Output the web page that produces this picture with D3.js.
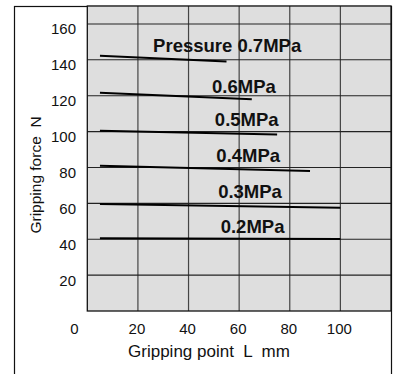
<!DOCTYPE html>
<html lang="en">
<head>
<meta charset="UTF-8">
<script src="https://cdn.jsdelivr.net/npm/d3@7"></script>
<title>Gripping force</title>
<style>
  body { margin: 0; background: #fff; }
  svg text { font-family: "Liberation Sans", Arial, sans-serif; fill: #111; }
  .lbl { font-weight: bold; font-size: 18.5px; }
</style>
</head>
<body>
<div id="chart"></div>
<script>
// values
const pressureLabels = ["Pressure 0.7MPa", "0.6MPa", "0.5MPa", "0.4MPa", "0.3MPa", "0.2MPa"];
const pointStart = [5, 5, 5, 5, 5, 5];
const pointEnd = [55, 65, 75, 88, 100, 100];
const forceStart = [142.3, 121.7, 100.5, 81, 59.6, 40.5];
const forceEnd = [139, 118, 98.4, 78, 57.6, 40.1];
const labelPoint = [26, 49.3, 50.4, 51, 51.7, 52.7];
const labelForce = [144.1, 121.6, 103, 82.8, 63.1, 43.3];
const xTicks = [20, 40, 60, 80, 100];
const yTicks = [20, 40, 60, 80, 100, 120, 140, 160];
const xGrid = [20, 40, 60, 80, 100];
const yGrid = [20, 40, 60, 80, 100, 120, 140, 160];

const W = 395, H = 374;
const svg = d3.select("#chart").append("svg")
    .attr("width", W)
    .attr("height", H);

const x = d3.scaleLinear().domain([0, 120]).range([87.3, 391]);
const y = d3.scaleLinear().domain([0, 170]).range([311, 6]);

// outer frame (open at the bottom, runs off the picture)
svg.append("rect")
    .attr("x", 14.5).attr("y", 6.5)
    .attr("width", 377).attr("height", 400)
    .attr("fill", "none").attr("stroke", "#111").attr("stroke-width", 1.2);

// plot background
svg.append("rect")
    .attr("x", x(0)).attr("y", y(170))
    .attr("width", x(120) - x(0)).attr("height", y(0) - y(170))
    .attr("fill", "#dedede");

// grid
svg.selectAll(".vg").data(xGrid).enter().append("line")
    .attr("x1", d => x(d)).attr("x2", d => x(d))
    .attr("y1", y(0)).attr("y2", y(170))
    .attr("stroke", "#444").attr("stroke-width", 1.2);

svg.selectAll(".hg").data(yGrid).enter().append("line")
    .attr("x1", x(0)).attr("x2", x(120))
    .attr("y1", d => y(d)).attr("y2", d => y(d))
    .attr("stroke", "#222").attr("stroke-width", 1.1);

// plot border
svg.append("rect")
    .attr("x", x(0)).attr("y", y(170))
    .attr("width", x(120) - x(0)).attr("height", y(0) - y(170))
    .attr("fill", "none").attr("stroke", "#111").attr("stroke-width", 1.3);

// tick labels
svg.selectAll(".xt").data(xTicks).enter().append("text")
    .attr("x", d => x(d) - 1).attr("y", 334)
    .attr("text-anchor", "middle")
    .style("font-size", "15px")
    .text(d => d);

svg.append("text")
    .attr("x", x(0) - 13).attr("y", 334)
    .attr("text-anchor", "middle")
    .style("font-size", "15px")
    .text("0");

svg.selectAll(".yt").data(yTicks).enter().append("text")
    .attr("x", 76).attr("y", d => y(d) + 10.5)
    .attr("text-anchor", "end")
    .style("font-size", "15px")
    .text(d => d);

// axis titles
svg.append("text")
    .attr("x", 209).attr("y", 357)
    .attr("text-anchor", "middle")
    .style("font-size", "17px")
    .style("white-space", "pre")
    .text("Gripping point  L  mm");

svg.append("text")
    .attr("transform", "translate(41,175) rotate(-90)")
    .attr("text-anchor", "middle")
    .style("font-size", "15.5px")
    .style("white-space", "pre")
    .text("Gripping force  N");

// pressure lines
const rows = pressureLabels.map((p, i) => ({
    label: p,
    x1: pointStart[i], x2: pointEnd[i],
    y1: forceStart[i], y2: forceEnd[i],
    lx: labelPoint[i], ly: labelForce[i]
}));

svg.selectAll(".pl").data(rows).enter().append("line")
    .attr("x1", d => x(d.x1)).attr("x2", d => x(d.x2))
    .attr("y1", d => y(d.y1)).attr("y2", d => y(d.y2))
    .attr("stroke", "#000").attr("stroke-width", 2)
    .attr("stroke-linecap", "butt");

svg.selectAll(".lbl").data(rows).enter().append("text")
    .attr("class", "lbl")
    .attr("x", d => x(d.lx)).attr("y", d => y(d.ly))
    .style("white-space", "pre")
    .text(d => d.label);
</script>
</body>
</html>
